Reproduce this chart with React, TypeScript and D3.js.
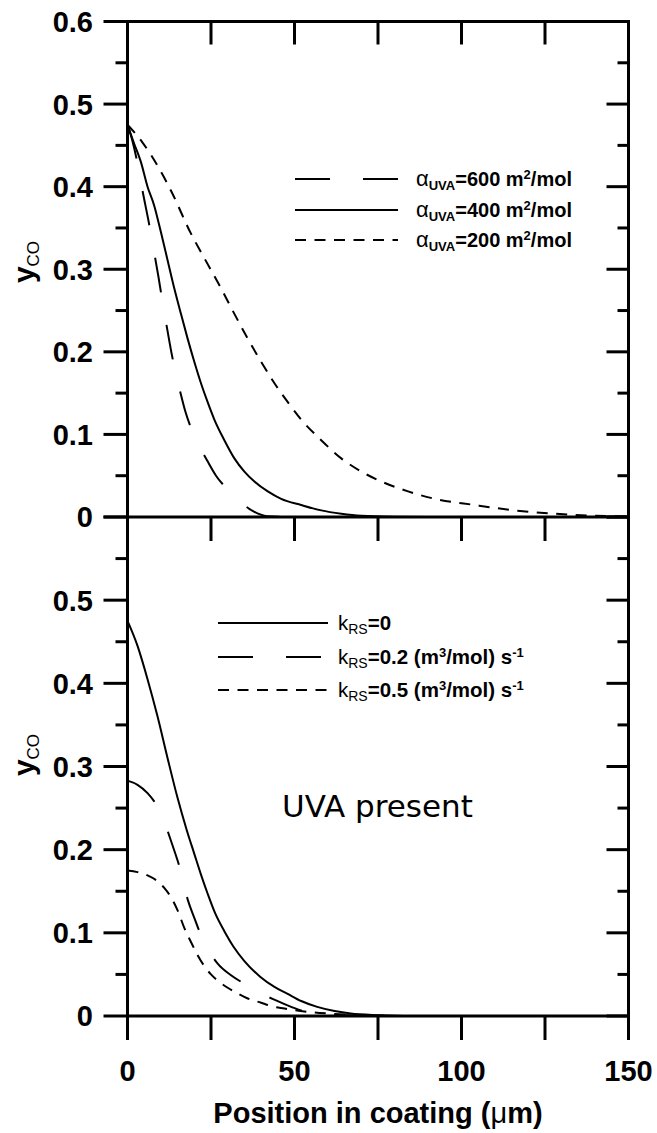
import React from "react";
import * as d3 from "d3";

// ---------- data ----------
// Top panel: alpha_UVA series (x in µm, y = y_co)
const top600X = [0, 1.5, 2.7, 4.6, 6.6, 8, 9.3, 10.7, 12, 13.3, 14.7, 16, 17.3, 19.3, 21.5, 23.9, 26.5, 29.8, 33, 37.6, 41.8, 50, 150];
const top600Y = [0.475, 0.455, 0.434, 0.393, 0.352, 0.32, 0.29, 0.255, 0.225, 0.196, 0.17, 0.148, 0.128, 0.105, 0.086, 0.068, 0.05, 0.034, 0.021, 0.007, 0.001, 0, 0];

const top400X = [0, 2, 4, 6, 8, 10, 12, 14, 16, 18, 20, 22, 24, 26, 29, 32, 35, 38, 42, 46, 52, 58, 64, 70, 80, 90, 150];
const top400Y = [0.475, 0.452, 0.43, 0.4, 0.377, 0.345, 0.311, 0.277, 0.246, 0.216, 0.188, 0.162, 0.139, 0.118, 0.093, 0.071, 0.055, 0.043, 0.031, 0.022, 0.0145, 0.008, 0.004, 0.0015, 0.0003, 0, 0];

const top200X = [0, 4.4, 9.9, 13.4, 18.9, 22.8, 28, 32, 36, 40, 44, 48, 52, 58, 64, 70, 76, 84, 92, 104, 116, 128, 140, 150];
const top200Y = [0.475, 0.454, 0.419, 0.392, 0.344, 0.315, 0.277, 0.246, 0.216, 0.188, 0.162, 0.139, 0.118, 0.093, 0.071, 0.055, 0.043, 0.031, 0.022, 0.0145, 0.008, 0.004, 0.0015, 0.0005];

// Bottom panel: k_RS series
const botK0X = [0, 3, 6, 9, 12, 15, 17.7, 20, 22, 24, 26.3, 29, 31.8, 35, 39.8, 44, 47.8, 52, 56.8, 62, 66.8, 75, 85, 150];
const botK0Y = [0.475, 0.445, 0.405, 0.36, 0.31, 0.262, 0.224, 0.195, 0.17, 0.147, 0.123, 0.102, 0.083, 0.066, 0.047, 0.035, 0.027, 0.018, 0.011, 0.006, 0.003, 0.001, 0, 0];

const botK02X = [0, 3, 6, 8, 10, 12.4, 14, 15.6, 18.1, 20, 21.8, 24, 27, 31, 35.3, 40, 44.3, 49, 53.3, 60, 70, 80, 150];
const botK02Y = [0.283, 0.278, 0.268, 0.258, 0.245, 0.218, 0.199, 0.179, 0.139, 0.118, 0.099, 0.081, 0.063, 0.049, 0.038, 0.027, 0.019, 0.011, 0.005, 0.002, 0.0005, 0, 0];

const botK05X = [0, 3, 6, 9, 11, 13, 15, 17, 19, 21, 23, 25, 27.5, 30, 33, 36, 40, 43, 47, 50, 54, 60, 70, 85, 150];
const botK05Y = [0.175, 0.173, 0.169, 0.162, 0.154, 0.143, 0.127, 0.106, 0.089, 0.073, 0.06, 0.05, 0.041, 0.034, 0.027, 0.021, 0.016, 0.012, 0.009, 0.007, 0.005, 0.003, 0.001, 0, 0];

const xTickValues = [0, 25, 50, 75, 100, 125, 150];
const xLabelValues = [0, 50, 100, 150];
const yMajorTop = [0, 0.1, 0.2, 0.3, 0.4, 0.5, 0.6];
const yMajorBot = [0, 0.1, 0.2, 0.3, 0.4, 0.5, 0.6];
const yMinor = [0.05, 0.15, 0.25, 0.35, 0.45, 0.55];
const yLabelsTop = ["0", "0.1", "0.2", "0.3", "0.4", "0.5", "0.6"];
const yLabelsBot = ["0", "0.1", "0.2", "0.3", "0.4", "0.5"];

const topLegendValues = ["600", "400", "200"];
const botLegendValues = ["0", "0.2", "0.5"];

// ---------- layout ----------
const W = 657;
const H = 1133;
const L = 127.5;
const R = 628.5;
const TOP0 = 517;
const TOP1 = 21.5;
const BOT0 = 1016;
const BOT1 = 517;

const LONG = "35,33";
const SHORT = "11,8.5";
const SANS = "'Liberation Sans', Arial, Helvetica, sans-serif";

const x = d3.scaleLinear().domain([0, 150]).range([L, R]);
const yTop = d3.scaleLinear().domain([0, 0.6]).range([TOP0, TOP1]);
const yBot = d3.scaleLinear().domain([0, 0.6]).range([BOT0, BOT1]);

function makePath(xs: number[], ys: number[], y: d3.ScaleLinear<number, number>) {
  const pts: [number, number][] = xs.map((v, i) => [v, ys[i]]);
  const line = d3
    .line<[number, number]>()
    .x((d) => x(d[0]))
    .y((d) => y(d[1]))
    .curve(d3.curveMonotoneX);
  return line(pts) || "";
}

function Panel({ y, top, bottom, showTopLabel }: any) {
  const majors = showTopLabel ? yMajorTop : yMajorBot;
  const labels = showTopLabel ? yLabelsTop : yLabelsBot;
  return (
    <g>
      {majors.map((v: number) => (
        <line key={"lm" + v} x1={L - 24} x2={L} y1={y(v)} y2={y(v)} stroke="#000" strokeWidth={3} />
      ))}
      {yMinor.map((v) => (
        <line key={"ln" + v} x1={L - 12} x2={L} y1={y(v)} y2={y(v)} stroke="#000" strokeWidth={3} />
      ))}
      {majors.map((v: number) => (
        <line key={"rm" + v} x1={R - 22} x2={R} y1={y(v)} y2={y(v)} stroke="#000" strokeWidth={3} />
      ))}
      {yMinor.map((v) => (
        <line key={"rn" + v} x1={R - 11} x2={R} y1={y(v)} y2={y(v)} stroke="#000" strokeWidth={3} />
      ))}
      {xTickValues.map((v) => (
        <line key={"xb" + v} x1={x(v)} x2={x(v)} y1={bottom} y2={bottom + 24} stroke="#000" strokeWidth={3} />
      ))}
      {showTopLabel &&
        xTickValues.map((v) => (
          <line key={"xt" + v} x1={x(v)} x2={x(v)} y1={top} y2={top + 23} stroke="#000" strokeWidth={3} />
        ))}
      {labels.map((t: string, i: number) => (
        <text
          key={"yl" + t}
          x={93}
          y={y(majors[i])}
          dy="0.36em"
          textAnchor="end"
          fontFamily={SANS}
          fontWeight="bold"
          fontSize={29}
        >
          {t}
        </text>
      ))}
    </g>
  );
}

function YTitle({ cy }: { cy: number }) {
  return (
    <text
      transform={`translate(34,${cy}) rotate(-90)`}
      textAnchor="middle"
      fontFamily={SANS}
      fontWeight="bold"
      fontSize={30}
    >
      y
      <tspan fontSize={17} fontWeight="normal" dy={5}>
        CO
      </tspan>
    </text>
  );
}

export default function App() {
  const topRows = [179, 210, 240];
  const botRows = [623, 657, 690];
  const topDash = [LONG, "none", SHORT];
  const botDash = ["none", LONG, SHORT];
  return (
    <svg width={W} height={H} style={{ position: "absolute", left: 0, top: 0, background: "#fff" }}>
      <rect x={0} y={0} width={W} height={H} fill="#fff" />
      <g fill="none" stroke="#000" strokeWidth={2}>
        <path d={makePath(top600X, top600Y, yTop)} strokeDasharray={LONG} />
        <path d={makePath(top400X, top400Y, yTop)} />
        <path d={makePath(top200X, top200Y, yTop)} strokeDasharray={SHORT} />
        <path d={makePath(botK0X, botK0Y, yBot)} />
        <path d={makePath(botK02X, botK02Y, yBot)} strokeDasharray={LONG} />
        <path d={makePath(botK05X, botK05Y, yBot)} strokeDasharray={SHORT} />
      </g>

      <Panel y={yTop} top={TOP1} bottom={TOP0} showTopLabel={true} />
      <Panel y={yBot} top={BOT1} bottom={BOT0} showTopLabel={false} />

      <g fill="none" stroke="#000" strokeWidth={3}>
        <line x1={L} x2={L} y1={TOP1 - 1.5} y2={BOT0 + 1.5} />
        <line x1={R} x2={R} y1={TOP1 - 1.5} y2={BOT0 + 1.5} />
        <line x1={L} x2={R} y1={TOP1} y2={TOP1} />
        <line x1={L} x2={R} y1={TOP0} y2={TOP0} />
        <line x1={L} x2={R} y1={BOT0} y2={BOT0} />
      </g>

      {xLabelValues.map((v) => (
        <text
          key={"xl" + v}
          x={x(v)}
          y={1081}
          textAnchor="middle"
          fontFamily={SANS}
          fontWeight="bold"
          fontSize={29}
        >
          {v}
        </text>
      ))}
      <text x={(L + R) / 2} y={1123} textAnchor="middle" fontFamily={SANS} fontWeight="bold" fontSize={29}>
        Position in coating (
        <tspan fontWeight="normal">μ</tspan>m)
      </text>

      <YTitle cy={262} />
      <YTitle cy={755} />

      {topLegendValues.map((v, i) => (
        <g key={"tl" + v}>
          <line
            x1={295}
            x2={398}
            y1={topRows[i]}
            y2={topRows[i]}
            stroke="#000"
            strokeWidth={2}
            strokeDasharray={topDash[i] === "none" ? undefined : topDash[i]}
          />
          <text x={416} y={topRows[i] + 7} fontFamily={SANS} fontWeight="bold" fontSize={20}>
            <tspan fontWeight="normal" fontSize={22}>
              α
            </tspan>
            <tspan fontSize={13} dy={4}>
              UVA
            </tspan>
            <tspan dy={-4}>{"=" + v + " m"}</tspan>
            <tspan fontSize={13} dy={-7}>
              2
            </tspan>
            <tspan dy={7}>/mol</tspan>
          </text>
        </g>
      ))}

      {botLegendValues.map((v, i) => (
        <g key={"bl" + v}>
          <line
            x1={218}
            x2={328}
            y1={botRows[i]}
            y2={botRows[i]}
            stroke="#000"
            strokeWidth={2}
            strokeDasharray={botDash[i] === "none" ? undefined : botDash[i]}
          />
          <text x={338} y={botRows[i] + 7} fontFamily={SANS} fontWeight="bold" fontSize={20.5}>
            <tspan fontWeight="normal">k</tspan>
            <tspan fontWeight="normal" fontSize={14} dy={4}>
              RS
            </tspan>
            {v === "0" ? (
              <tspan dy={-4}>=0</tspan>
            ) : (
              <>
                <tspan dy={-4}>{"=" + v + " (m"}</tspan>
                <tspan fontSize={13} dy={-7}>
                  3
                </tspan>
                <tspan dy={7}>/mol) s</tspan>
                <tspan fontSize={13} dy={-7}>
                  -1
                </tspan>
              </>
            )}
          </text>
        </g>
      ))}

      <text x={282} y={817} fontFamily="'DejaVu Sans', Verdana, sans-serif" fontSize={31}>
        UVA present
      </text>
    </svg>
  );
}
